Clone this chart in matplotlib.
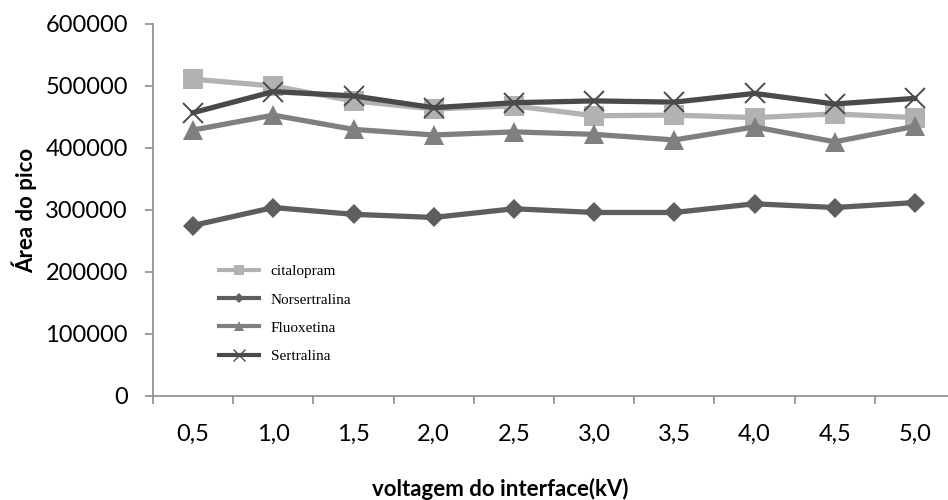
import numpy as np
import matplotlib.pyplot as plt
from matplotlib.lines import Line2D

voltagem = ["0,5", "1,0", "1,5", "2,0", "2,5", "3,0", "3,5", "4,0", "4,5", "5,0"]
citalopram = [511000, 500000, 476000, 463000, 468000, 452000, 453000, 449000, 455000, 449000]
norsertralina = [275000, 304000, 293000, 288000, 302000, 296000, 296000, 310000, 304000, 312000]
fluoxetina = [429000, 453000, 430000, 421000, 426000, 422000, 413000, 434000, 410000, 435000]
sertralina = [457000, 491000, 484000, 465000, 473000, 476000, 474000, 488000, 471000, 480000]

series = [
    ("citalopram", citalopram, "#b2b2b2", "s", 14, 0),
    ("Norsertralina", norsertralina, "#5e5e5e", "D", 10, 0),
    ("Fluoxetina", fluoxetina, "#7f7f7f", "^", 14, 0),
    ("Sertralina", sertralina, "#4a4a4a", "x", 15, 1.4),
]

plt.rcParams["font.family"] = ["Lato", "DejaVu Sans"]

fig = plt.figure(figsize=(9.48, 5.0), dpi=100)
ax = fig.add_axes([153 / 948, 104 / 500, 802 / 948, 372 / 500])

x = np.arange(len(voltagem))
for name, vals, col, mk, ms, mew in series:
    ax.plot(x, vals, color=col, lw=3.8, marker=mk, markersize=ms,
            markerfacecolor=col, markeredgecolor=col, markeredgewidth=mew,
            solid_joinstyle="miter")

ax.set_xlim(-0.5, len(voltagem) - 0.5)
ax.set_ylim(0, 600000)
ax.set_yticks(np.arange(0, 600001, 100000))
ax.set_yticklabels([str(v) for v in range(0, 600001, 100000)])

# category ticks sit on the boundaries, labels in the middle
ax.set_xticks(np.arange(len(voltagem) + 1) - 0.5)
ax.set_xticklabels([])
ax.set_xticks(x, minor=True)
ax.set_xticklabels(voltagem, minor=True)
ax.tick_params(axis="x", which="minor", length=0, pad=20, labelsize=17)
ax.tick_params(axis="x", which="major", length=6, width=1.2, color="#8c8c8c", direction="out")
ax.tick_params(axis="y", length=6, width=1.2, color="#8c8c8c", direction="out", labelsize=17, pad=12)

for s in ["top", "right"]:
    ax.spines[s].set_visible(False)
for s in ["left", "bottom"]:
    ax.spines[s].set_color("#8c8c8c")
    ax.spines[s].set_linewidth(1.2)

ax.set_ylabel("Área do pico", fontsize=16, fontweight="bold", labelpad=6)
fig.text(0.528, 0.0, "voltagem do interface(kV)", ha="center", va="bottom",
         fontsize=16, fontweight="bold")

handles = [Line2D([], [], color=col, lw=3, marker=mk, markersize=ms * 0.55,
                  markerfacecolor=col, markeredgecolor=col,
                  markeredgewidth=(1 if mk == "x" else 0))
           for name, vals, col, mk, ms, mew in series]
leg = ax.legend(handles, [s[0] for s in series], loc="upper left",
                bbox_to_anchor=(0.065, 0.39), frameon=False, handlelength=2.6,
                labelspacing=0.95, handletextpad=0.8,
                prop={"family": "Liberation Serif", "size": 11})

fig.savefig("out.png", dpi=100)
